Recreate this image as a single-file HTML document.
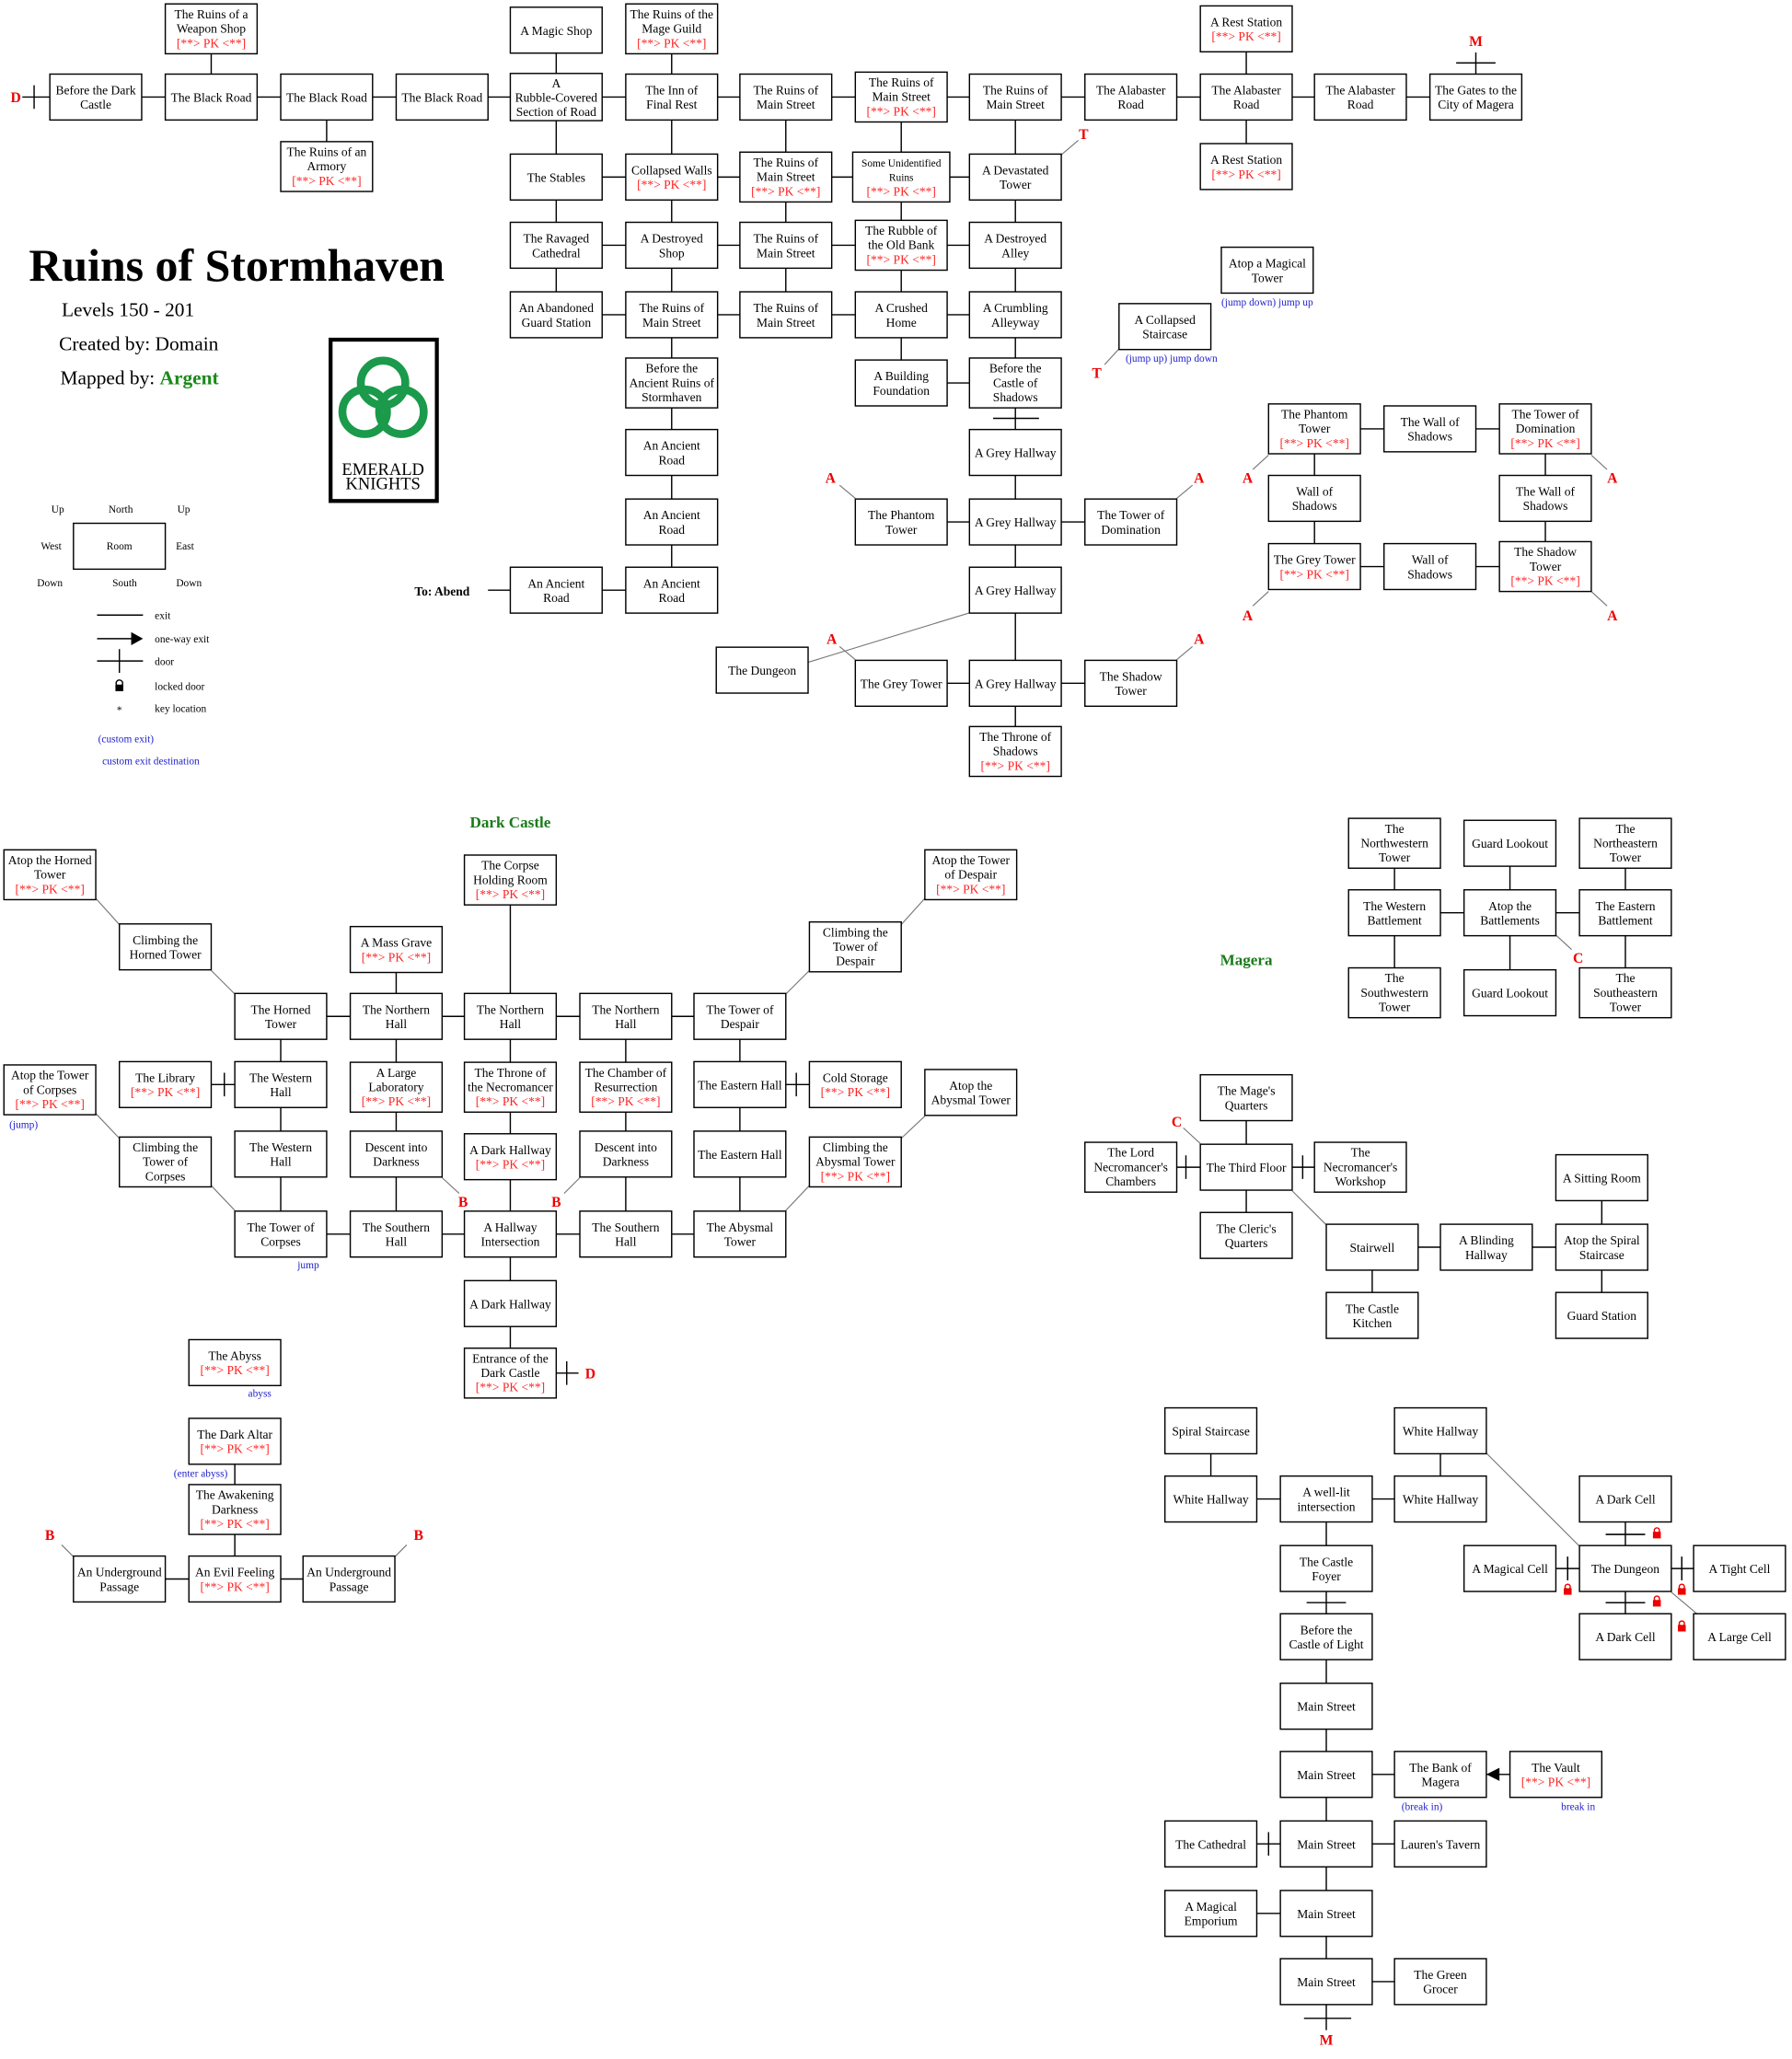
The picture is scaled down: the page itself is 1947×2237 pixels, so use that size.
<!DOCTYPE html>
<html><head><meta charset="utf-8"><style>
html,body{margin:0;padding:0;background:#fff;}
svg{display:block;}
text{font-family:"Liberation Serif",serif;font-size:9.5px;text-anchor:middle;fill:#000;}
.pk{fill:#f22;}
.bl{fill:#22c;font-size:8px;}
.red{fill:#e00;font-weight:bold;font-size:11px;}
.g rect{fill:#fff;stroke:#000;stroke-width:1;}
</style></head><body>
<svg width="1947" height="2237" viewBox="0 0 1366 1570" preserveAspectRatio="none" xmlns="http://www.w3.org/2000/svg">
<rect width="1366" height="1570" fill="#fff"/>
<path fill="none" stroke="#000" stroke-width="1" d="
M17 74 H1125 M26 65 V83
M161 22 V74 M249 74 V127 M424 23 V240 M512 22 V450 M599 74 V240 M687 74 V292 M774 74 V573 M950 22 V127
M1125 40 V74 M1110 48 H1140
M424 135 H774 M424 187 H774 M424 240 H774 M687 292 H774 M757 319 H792
M687 398 H862 M687 521 H862 M372 450 H512
M1002 327 H1178 M1002 432 H1178 M1002 327 V432 M1178 327 V432
M214 775 H564 M302 724 V775 M389 671 V775
M214 775 V941 M302 775 V941 M389 775 V1047 M477 775 V941 M564 775 V941
M126 827 H214 M171 818 V836 M564 827 H652 M607 818 V836
M214 941 H564
M424 1047 H441 M432 1038 V1056
M179 1099 V1204 M91 1204 H266
M1063 643 V757 M1151 643 V757 M1239 643 V757 M1063 696 H1239
M950 837 V942 M862 890 H1037 M904 881 V899 M993 881 V899
M1046 951 H1221 M1221 898 V1003 M1046 951 V1003
M923 1091 V1143 M923 1143 H1098 M1098 1091 V1143 M1011 1143 V1511 M996 1222 H1026
M1011 1353 H1098 M923 1406 H1098 M967 1397 V1415 M923 1459 H1011 M1011 1511 H1098
M1011 1528 V1548 M994 1539 H1030
M1239 1143 V1248 M1151 1196 H1326 M1224 1170 H1254 M1224 1222 H1254 M1195 1187 V1205 M1282 1187 V1205
M1133 1353 H1151
"/>
<path fill="none" stroke="#777" stroke-width="0.8" d="
M809 118 L822 107 M853 266 L842 278 M923 232 L880 249
M652 380 L640 370 M897 380 L909 370 M652 503 L640 493 M897 503 L909 493
M740 467 L616 505
M967 347 L955 358 M1213 347 L1225 358 M967 451 L955 462 M1213 451 L1225 462
M73 685 L91 705 M161 740 L179 758 M705 685 L687 705 M617 740 L599 758
M73 849 L91 868 M161 904 L179 923 M705 851 L687 868 M617 904 L599 923
M337 898 L350 910 M442 898 L430 910
M56 1187 L47 1178 M301 1187 L310 1178
M1186 713 L1198 724 M915 872 L902 860 M985 908 L1011 934
M1133 1108 L1204 1179 M1274 1214 L1300 1236
"/>
<polygon points="1133,1353 1143,1348 1143,1358" fill="#000"/>
<text class="red" x="12" y="78">D</text>
<text class="red" x="1125" y="35">M</text>
<text class="red" x="826" y="106">T</text>
<text class="red" x="836" y="288">T</text>
<text class="red" x="633" y="368">A</text><text class="red" x="914" y="368">A</text>
<text class="red" x="634" y="491">A</text><text class="red" x="914" y="491">A</text>
<text class="red" x="951" y="368">A</text><text class="red" x="1229" y="368">A</text>
<text class="red" x="951" y="473">A</text><text class="red" x="1229" y="473">A</text>
<text class="red" x="353" y="920">B</text><text class="red" x="424" y="920">B</text>
<text class="red" x="38" y="1174">B</text><text class="red" x="319" y="1174">B</text>
<text class="red" x="450" y="1051">D</text>
<text class="red" x="1203" y="734">C</text><text class="red" x="897" y="859">C</text>
<text class="red" x="1011" y="1559">M</text>
<text x="22" y="214" style="font-size:35px;font-weight:bold;text-anchor:start">Ruins of Stormhaven</text>
<text x="47" y="241" style="font-size:15px;text-anchor:start">Levels 150 - 201</text>
<text x="45" y="267" style="font-size:15px;text-anchor:start">Created by: Domain</text>
<text x="46" y="293" style="font-size:15px;text-anchor:start">Mapped by: <tspan style="fill:#1a8a1a;font-weight:bold">Argent</tspan></text>
<text x="389" y="631" style="font-size:12px;font-weight:bold;fill:#1a7a1a">Dark Castle</text>
<text x="950" y="736" style="font-size:12px;font-weight:bold;fill:#1a7a1a">Magera</text>
<text x="337" y="454" style="font-weight:bold">To: Abend</text>
<rect x="252" y="259" width="81" height="123" fill="#fff" stroke="#000" stroke-width="3"/>
<g fill="none" stroke="#1a9a4a" stroke-width="6">
<circle cx="292" cy="292" r="17"/><circle cx="278" cy="314" r="17"/><circle cx="306" cy="314" r="17"/>
</g>
<text x="292" y="362" style="font-size:13px">EMERALD</text>
<text x="292" y="373" style="font-size:13px">KNIGHTS</text>
<rect x="56" y="399" width="70" height="35" fill="#fff" stroke="#000"/>
<text x="91" y="419" style="font-size:8px">Room</text>
<text x="44" y="391" style="font-size:8px">Up</text><text x="92" y="391" style="font-size:8px">North</text><text x="140" y="391" style="font-size:8px">Up</text>
<text x="39" y="419" style="font-size:8px">West</text><text x="141" y="419" style="font-size:8px">East</text>
<text x="38" y="447" style="font-size:8px">Down</text><text x="95" y="447" style="font-size:8px">South</text><text x="144" y="447" style="font-size:8px">Down</text>
<path d="M74 469 H109 M74 487 H103 M74 504 H109 M91 495 V513" stroke="#000" fill="none"/>
<polygon points="109,487 100,482 100,492" fill="#000"/>
<circle cx="91" cy="521" r="2.5" fill="none" stroke="#000"/><rect x="88" y="522" width="6" height="5" fill="#000"/>
<text x="91" y="544" style="font-size:8px">*</text>
<text x="118" y="472" style="font-size:8px;text-anchor:start">exit</text>
<text x="118" y="490" style="font-size:8px;text-anchor:start">one-way exit</text>
<text x="118" y="507" style="font-size:8px;text-anchor:start">door</text>
<text x="118" y="526" style="font-size:8px;text-anchor:start">locked door</text>
<text x="118" y="543" style="font-size:8px;text-anchor:start">key location</text>
<text class="bl" x="96" y="566">(custom exit)</text>
<text class="bl" x="115" y="583">custom exit destination</text>
<text class="bl" x="966" y="233">(jump down)  jump up</text>
<text class="bl" x="893" y="276">(jump up)   jump down</text>
<text class="bl" x="18" y="860">(jump)</text>
<text class="bl" x="235" y="967">jump</text>
<text class="bl" x="198" y="1065">abyss</text>
<text class="bl" x="153" y="1126">(enter abyss)</text>
<text class="bl" x="1084" y="1380">(break in)</text>
<text class="bl" x="1203" y="1380">break in</text>
<g fill="none" stroke="#e00" stroke-width="1">
<circle cx="1263" cy="1167" r="2"/><circle cx="1195" cy="1210" r="2"/><circle cx="1282" cy="1210" r="2"/><circle cx="1263" cy="1219" r="2"/><circle cx="1282" cy="1238" r="2"/>
</g>
<g fill="#e00">
<rect x="1260" y="1168" width="6" height="5"/><rect x="1192" y="1211" width="6" height="5"/><rect x="1279" y="1211" width="6" height="5"/><rect x="1260" y="1220" width="6" height="5"/><rect x="1279" y="1239" width="6" height="5"/>
</g>
<text x="1267" y="1213" style="fill:#e00;font-size:8px">*</text>

<g class="g">
<g transform="translate(73,74)"><rect x="-35" y="-17.5" width="70" height="35"/><text y="-2">Before the Dark</text><text y="9">Castle</text></g>
<g transform="translate(161,74)"><rect x="-35" y="-17.5" width="70" height="35"/><text y="3.5">The Black Road</text></g>
<g transform="translate(161,22)"><rect x="-35" y="-19" width="70" height="38"/><text y="-8">The Ruins of a</text><text y="3">Weapon Shop</text><text class="pk" y="14">[**&gt; PK &lt;**]</text></g>
<g transform="translate(249,74)"><rect x="-35" y="-17.5" width="70" height="35"/><text y="3.5">The Black Road</text></g>
<g transform="translate(249,127)"><rect x="-35" y="-19" width="70" height="38"/><text y="-8">The Ruins of an</text><text y="3">Armory</text><text class="pk" y="14">[**&gt; PK &lt;**]</text></g>
<g transform="translate(337,74)"><rect x="-35" y="-17.5" width="70" height="35"/><text y="3.5">The Black Road</text></g>
<g transform="translate(424,23)"><rect x="-35" y="-17.5" width="70" height="35"/><text y="3.5">A Magic Shop</text></g>
<g transform="translate(424,74)"><rect x="-35" y="-18" width="70" height="36"/><text y="-7.5">A</text><text y="3.5">Rubble-Covered</text><text y="14.5">Section of Road</text></g>
<g transform="translate(512,22)"><rect x="-35" y="-19" width="70" height="38"/><text y="-8">The Ruins of the</text><text y="3">Mage Guild</text><text class="pk" y="14">[**&gt; PK &lt;**]</text></g>
<g transform="translate(512,74)"><rect x="-35" y="-17.5" width="70" height="35"/><text y="-2">The Inn of</text><text y="9">Final Rest</text></g>
<g transform="translate(599,74)"><rect x="-35" y="-17.5" width="70" height="35"/><text y="-2">The Ruins of</text><text y="9">Main Street</text></g>
<g transform="translate(687,74)"><rect x="-35" y="-19" width="70" height="38"/><text y="-8">The Ruins of</text><text y="3">Main Street</text><text class="pk" y="14">[**&gt; PK &lt;**]</text></g>
<g transform="translate(774,74)"><rect x="-35" y="-17.5" width="70" height="35"/><text y="-2">The Ruins of</text><text y="9">Main Street</text></g>
<g transform="translate(862,74)"><rect x="-35" y="-17.5" width="70" height="35"/><text y="-2">The Alabaster</text><text y="9">Road</text></g>
<g transform="translate(950,74)"><rect x="-35" y="-17.5" width="70" height="35"/><text y="-2">The Alabaster</text><text y="9">Road</text></g>
<g transform="translate(950,22)"><rect x="-35" y="-17.5" width="70" height="35"/><text y="-2">A Rest Station</text><text class="pk" y="9">[**&gt; PK &lt;**]</text></g>
<g transform="translate(950,127)"><rect x="-35" y="-17.5" width="70" height="35"/><text y="-2">A Rest Station</text><text class="pk" y="9">[**&gt; PK &lt;**]</text></g>
<g transform="translate(1037,74)"><rect x="-35" y="-17.5" width="70" height="35"/><text y="-2">The Alabaster</text><text y="9">Road</text></g>
<g transform="translate(1125,74)"><rect x="-35" y="-17.5" width="70" height="35"/><text y="-2">The Gates to the</text><text y="9">City of Magera</text></g>

<g transform="translate(424,135)"><rect x="-35" y="-17.5" width="70" height="35"/><text y="3.5">The Stables</text></g>
<g transform="translate(512,135)"><rect x="-35" y="-17.5" width="70" height="35"/><text y="-2">Collapsed Walls</text><text class="pk" y="9">[**&gt; PK &lt;**]</text></g>
<g transform="translate(599,135)"><rect x="-35" y="-19" width="70" height="38"/><text y="-8">The Ruins of</text><text y="3">Main Street</text><text class="pk" y="14">[**&gt; PK &lt;**]</text></g>
<g transform="translate(687,135)"><rect x="-37" y="-19" width="74" height="38"/><text y="-8" style="font-size:8px">Some Unidentified</text><text y="3" style="font-size:8px">Ruins</text><text class="pk" y="14">[**&gt; PK &lt;**]</text></g>
<g transform="translate(774,135)"><rect x="-35" y="-17.5" width="70" height="35"/><text y="-2">A Devastated</text><text y="9">Tower</text></g>
<g transform="translate(424,187)"><rect x="-35" y="-17.5" width="70" height="35"/><text y="-2">The Ravaged</text><text y="9">Cathedral</text></g>
<g transform="translate(512,187)"><rect x="-35" y="-17.5" width="70" height="35"/><text y="-2">A Destroyed</text><text y="9">Shop</text></g>
<g transform="translate(599,187)"><rect x="-35" y="-17.5" width="70" height="35"/><text y="-2">The Ruins of</text><text y="9">Main Street</text></g>
<g transform="translate(687,187)"><rect x="-35" y="-19" width="70" height="38"/><text y="-8">The Rubble of</text><text y="3">the Old Bank</text><text class="pk" y="14">[**&gt; PK &lt;**]</text></g>
<g transform="translate(774,187)"><rect x="-35" y="-17.5" width="70" height="35"/><text y="-2">A Destroyed</text><text y="9">Alley</text></g>
<g transform="translate(424,240)"><rect x="-35" y="-17.5" width="70" height="35"/><text y="-2">An Abandoned</text><text y="9">Guard Station</text></g>
<g transform="translate(512,240)"><rect x="-35" y="-17.5" width="70" height="35"/><text y="-2">The Ruins of</text><text y="9">Main Street</text></g>
<g transform="translate(599,240)"><rect x="-35" y="-17.5" width="70" height="35"/><text y="-2">The Ruins of</text><text y="9">Main Street</text></g>
<g transform="translate(687,240)"><rect x="-35" y="-17.5" width="70" height="35"/><text y="-2">A Crushed</text><text y="9">Home</text></g>
<g transform="translate(774,240)"><rect x="-35" y="-17.5" width="70" height="35"/><text y="-2">A Crumbling</text><text y="9">Alleyway</text></g>
<g transform="translate(512,292)"><rect x="-35" y="-19" width="70" height="38"/><text y="-8">Before the</text><text y="3">Ancient Ruins of</text><text y="14">Stormhaven</text></g>
<g transform="translate(687,292)"><rect x="-35" y="-17.5" width="70" height="35"/><text y="-2">A Building</text><text y="9">Foundation</text></g>
<g transform="translate(774,292)"><rect x="-35" y="-19" width="70" height="38"/><text y="-8">Before the</text><text y="3">Castle of</text><text y="14">Shadows</text></g>
<g transform="translate(512,345)"><rect x="-35" y="-17.5" width="70" height="35"/><text y="-2">An Ancient</text><text y="9">Road</text></g>
<g transform="translate(774,345)"><rect x="-35" y="-17.5" width="70" height="35"/><text y="3.5">A Grey Hallway</text></g>
<g transform="translate(512,398)"><rect x="-35" y="-17.5" width="70" height="35"/><text y="-2">An Ancient</text><text y="9">Road</text></g>
<g transform="translate(687,398)"><rect x="-35" y="-17.5" width="70" height="35"/><text y="-2">The Phantom</text><text y="9">Tower</text></g>
<g transform="translate(774,398)"><rect x="-35" y="-17.5" width="70" height="35"/><text y="3.5">A Grey Hallway</text></g>
<g transform="translate(862,398)"><rect x="-35" y="-17.5" width="70" height="35"/><text y="-2">The Tower of</text><text y="9">Domination</text></g>
<g transform="translate(424,450)"><rect x="-35" y="-17.5" width="70" height="35"/><text y="-2">An Ancient</text><text y="9">Road</text></g>
<g transform="translate(512,450)"><rect x="-35" y="-17.5" width="70" height="35"/><text y="-2">An Ancient</text><text y="9">Road</text></g>
<g transform="translate(774,450)"><rect x="-35" y="-17.5" width="70" height="35"/><text y="3.5">A Grey Hallway</text></g>
<g transform="translate(581,511)"><rect x="-35" y="-17.5" width="70" height="35"/><text y="3.5">The Dungeon</text></g>
<g transform="translate(687,521)"><rect x="-35" y="-17.5" width="70" height="35"/><text y="3.5">The Grey Tower</text></g>
<g transform="translate(774,521)"><rect x="-35" y="-17.5" width="70" height="35"/><text y="3.5">A Grey Hallway</text></g>
<g transform="translate(862,521)"><rect x="-35" y="-17.5" width="70" height="35"/><text y="-2">The Shadow</text><text y="9">Tower</text></g>
<g transform="translate(774,573)"><rect x="-35" y="-19" width="70" height="38"/><text y="-8">The Throne of</text><text y="3">Shadows</text><text class="pk" y="14">[**&gt; PK &lt;**]</text></g>
<g transform="translate(966,206)"><rect x="-35" y="-17.5" width="70" height="35"/><text y="-2">Atop a Magical</text><text y="9">Tower</text></g>
<g transform="translate(888,249)"><rect x="-35" y="-17.5" width="70" height="35"/><text y="-2">A Collapsed</text><text y="9">Staircase</text></g>

<g transform="translate(1002,327)"><rect x="-35" y="-19" width="70" height="38"/><text y="-8">The Phantom</text><text y="3">Tower</text><text class="pk" y="14">[**&gt; PK &lt;**]</text></g>
<g transform="translate(1090,327)"><rect x="-35" y="-17.5" width="70" height="35"/><text y="-2">The Wall of</text><text y="9">Shadows</text></g>
<g transform="translate(1178,327)"><rect x="-35" y="-19" width="70" height="38"/><text y="-8">The Tower of</text><text y="3">Domination</text><text class="pk" y="14">[**&gt; PK &lt;**]</text></g>
<g transform="translate(1002,380)"><rect x="-35" y="-17.5" width="70" height="35"/><text y="-2">Wall of</text><text y="9">Shadows</text></g>
<g transform="translate(1178,380)"><rect x="-35" y="-17.5" width="70" height="35"/><text y="-2">The Wall of</text><text y="9">Shadows</text></g>
<g transform="translate(1002,432)"><rect x="-35" y="-17.5" width="70" height="35"/><text y="-2">The Grey Tower</text><text class="pk" y="9">[**&gt; PK &lt;**]</text></g>
<g transform="translate(1090,432)"><rect x="-35" y="-17.5" width="70" height="35"/><text y="-2">Wall of</text><text y="9">Shadows</text></g>
<g transform="translate(1178,432)"><rect x="-35" y="-19" width="70" height="38"/><text y="-8">The Shadow</text><text y="3">Tower</text><text class="pk" y="14">[**&gt; PK &lt;**]</text></g>

<g transform="translate(38,667)"><rect x="-35" y="-19" width="70" height="38"/><text y="-8">Atop the Horned</text><text y="3">Tower</text><text class="pk" y="14">[**&gt; PK &lt;**]</text></g>
<g transform="translate(126,722)"><rect x="-35" y="-17.5" width="70" height="35"/><text y="-2">Climbing the</text><text y="9">Horned Tower</text></g>
<g transform="translate(214,775)"><rect x="-35" y="-17.5" width="70" height="35"/><text y="-2">The Horned</text><text y="9">Tower</text></g>
<g transform="translate(302,775)"><rect x="-35" y="-17.5" width="70" height="35"/><text y="-2">The Northern</text><text y="9">Hall</text></g>
<g transform="translate(389,775)"><rect x="-35" y="-17.5" width="70" height="35"/><text y="-2">The Northern</text><text y="9">Hall</text></g>
<g transform="translate(477,775)"><rect x="-35" y="-17.5" width="70" height="35"/><text y="-2">The Northern</text><text y="9">Hall</text></g>
<g transform="translate(564,775)"><rect x="-35" y="-17.5" width="70" height="35"/><text y="-2">The Tower of</text><text y="9">Despair</text></g>
<g transform="translate(652,722)"><rect x="-35" y="-19" width="70" height="38"/><text y="-8">Climbing the</text><text y="3">Tower of</text><text y="14">Despair</text></g>
<g transform="translate(740,667)"><rect x="-35" y="-19" width="70" height="38"/><text y="-8">Atop the Tower</text><text y="3">of Despair</text><text class="pk" y="14">[**&gt; PK &lt;**]</text></g>
<g transform="translate(302,724)"><rect x="-35" y="-17.5" width="70" height="35"/><text y="-2">A Mass Grave</text><text class="pk" y="9">[**&gt; PK &lt;**]</text></g>
<g transform="translate(389,671)"><rect x="-35" y="-19" width="70" height="38"/><text y="-8">The Corpse</text><text y="3">Holding Room</text><text class="pk" y="14">[**&gt; PK &lt;**]</text></g>
<g transform="translate(38,831)"><rect x="-35" y="-19" width="70" height="38"/><text y="-8">Atop the Tower</text><text y="3">of Corpses</text><text class="pk" y="14">[**&gt; PK &lt;**]</text></g>
<g transform="translate(126,827)"><rect x="-35" y="-17.5" width="70" height="35"/><text y="-2">The Library</text><text class="pk" y="9">[**&gt; PK &lt;**]</text></g>
<g transform="translate(214,827)"><rect x="-35" y="-17.5" width="70" height="35"/><text y="-2">The Western</text><text y="9">Hall</text></g>
<g transform="translate(302,829)"><rect x="-35" y="-19" width="70" height="38"/><text y="-8">A Large</text><text y="3">Laboratory</text><text class="pk" y="14">[**&gt; PK &lt;**]</text></g>
<g transform="translate(389,829)"><rect x="-35" y="-19" width="70" height="38"/><text y="-8">The Throne of</text><text y="3">the Necromancer</text><text class="pk" y="14">[**&gt; PK &lt;**]</text></g>
<g transform="translate(477,829)"><rect x="-35" y="-19" width="70" height="38"/><text y="-8">The Chamber of</text><text y="3">Resurrection</text><text class="pk" y="14">[**&gt; PK &lt;**]</text></g>
<g transform="translate(564,827)"><rect x="-35" y="-17.5" width="70" height="35"/><text y="3.5">The Eastern Hall</text></g>
<g transform="translate(652,827)"><rect x="-35" y="-17.5" width="70" height="35"/><text y="-2">Cold Storage</text><text class="pk" y="9">[**&gt; PK &lt;**]</text></g>
<g transform="translate(740,833)"><rect x="-35" y="-17.5" width="70" height="35"/><text y="-2">Atop the</text><text y="9">Abysmal Tower</text></g>
<g transform="translate(126,886)"><rect x="-35" y="-19" width="70" height="38"/><text y="-8">Climbing the</text><text y="3">Tower of</text><text y="14">Corpses</text></g>
<g transform="translate(214,880)"><rect x="-35" y="-17.5" width="70" height="35"/><text y="-2">The Western</text><text y="9">Hall</text></g>
<g transform="translate(302,880)"><rect x="-35" y="-17.5" width="70" height="35"/><text y="-2">Descent into</text><text y="9">Darkness</text></g>
<g transform="translate(389,882)"><rect x="-35" y="-17.5" width="70" height="35"/><text y="-2">A Dark Hallway</text><text class="pk" y="9">[**&gt; PK &lt;**]</text></g>
<g transform="translate(477,880)"><rect x="-35" y="-17.5" width="70" height="35"/><text y="-2">Descent into</text><text y="9">Darkness</text></g>
<g transform="translate(564,880)"><rect x="-35" y="-17.5" width="70" height="35"/><text y="3.5">The Eastern Hall</text></g>
<g transform="translate(652,886)"><rect x="-35" y="-19" width="70" height="38"/><text y="-8">Climbing the</text><text y="3">Abysmal Tower</text><text class="pk" y="14">[**&gt; PK &lt;**]</text></g>
<g transform="translate(214,941)"><rect x="-35" y="-17.5" width="70" height="35"/><text y="-2">The Tower of</text><text y="9">Corpses</text></g>
<g transform="translate(302,941)"><rect x="-35" y="-17.5" width="70" height="35"/><text y="-2">The Southern</text><text y="9">Hall</text></g>
<g transform="translate(389,941)"><rect x="-35" y="-17.5" width="70" height="35"/><text y="-2">A Hallway</text><text y="9">Intersection</text></g>
<g transform="translate(477,941)"><rect x="-35" y="-17.5" width="70" height="35"/><text y="-2">The Southern</text><text y="9">Hall</text></g>
<g transform="translate(564,941)"><rect x="-35" y="-17.5" width="70" height="35"/><text y="-2">The Abysmal</text><text y="9">Tower</text></g>
<g transform="translate(389,994)"><rect x="-35" y="-17.5" width="70" height="35"/><text y="3.5">A Dark Hallway</text></g>
<g transform="translate(389,1047)"><rect x="-35" y="-19" width="70" height="38"/><text y="-8">Entrance of the</text><text y="3">Dark Castle</text><text class="pk" y="14">[**&gt; PK &lt;**]</text></g>
<g transform="translate(179,1039)"><rect x="-35" y="-17.5" width="70" height="35"/><text y="-2">The Abyss</text><text class="pk" y="9">[**&gt; PK &lt;**]</text></g>
<g transform="translate(179,1099)"><rect x="-35" y="-17.5" width="70" height="35"/><text y="-2">The Dark Altar</text><text class="pk" y="9">[**&gt; PK &lt;**]</text></g>
<g transform="translate(179,1151)"><rect x="-35" y="-19" width="70" height="38"/><text y="-8">The Awakening</text><text y="3">Darkness</text><text class="pk" y="14">[**&gt; PK &lt;**]</text></g>
<g transform="translate(91,1204)"><rect x="-35" y="-17.5" width="70" height="35"/><text y="-2">An Underground</text><text y="9">Passage</text></g>
<g transform="translate(179,1204)"><rect x="-35" y="-17.5" width="70" height="35"/><text y="-2">An Evil Feeling</text><text class="pk" y="9">[**&gt; PK &lt;**]</text></g>
<g transform="translate(266,1204)"><rect x="-35" y="-17.5" width="70" height="35"/><text y="-2">An Underground</text><text y="9">Passage</text></g>

<g transform="translate(1063,643)"><rect x="-35" y="-19" width="70" height="38"/><text y="-8">The</text><text y="3">Northwestern</text><text y="14">Tower</text></g>
<g transform="translate(1151,643)"><rect x="-35" y="-17.5" width="70" height="35"/><text y="3.5">Guard Lookout</text></g>
<g transform="translate(1239,643)"><rect x="-35" y="-19" width="70" height="38"/><text y="-8">The</text><text y="3">Northeastern</text><text y="14">Tower</text></g>
<g transform="translate(1063,696)"><rect x="-35" y="-17.5" width="70" height="35"/><text y="-2">The Western</text><text y="9">Battlement</text></g>
<g transform="translate(1151,696)"><rect x="-35" y="-17.5" width="70" height="35"/><text y="-2">Atop the</text><text y="9">Battlements</text></g>
<g transform="translate(1239,696)"><rect x="-35" y="-17.5" width="70" height="35"/><text y="-2">The Eastern</text><text y="9">Battlement</text></g>
<g transform="translate(1063,757)"><rect x="-35" y="-19" width="70" height="38"/><text y="-8">The</text><text y="3">Southwestern</text><text y="14">Tower</text></g>
<g transform="translate(1151,757)"><rect x="-35" y="-17.5" width="70" height="35"/><text y="3.5">Guard Lookout</text></g>
<g transform="translate(1239,757)"><rect x="-35" y="-19" width="70" height="38"/><text y="-8">The</text><text y="3">Southeastern</text><text y="14">Tower</text></g>
<g transform="translate(950,837)"><rect x="-35" y="-17.5" width="70" height="35"/><text y="-2">The Mage's</text><text y="9">Quarters</text></g>
<g transform="translate(862,890)"><rect x="-35" y="-19" width="70" height="38"/><text y="-8">The Lord</text><text y="3">Necromancer's</text><text y="14">Chambers</text></g>
<g transform="translate(950,890)"><rect x="-35" y="-17.5" width="70" height="35"/><text y="3.5">The Third Floor</text></g>
<g transform="translate(1037,890)"><rect x="-35" y="-19" width="70" height="38"/><text y="-8">The</text><text y="3">Necromancer's</text><text y="14">Workshop</text></g>
<g transform="translate(950,942)"><rect x="-35" y="-17.5" width="70" height="35"/><text y="-2">The Cleric's</text><text y="9">Quarters</text></g>
<g transform="translate(1046,951)"><rect x="-35" y="-17.5" width="70" height="35"/><text y="3.5">Stairwell</text></g>
<g transform="translate(1133,951)"><rect x="-35" y="-17.5" width="70" height="35"/><text y="-2">A Blinding</text><text y="9">Hallway</text></g>
<g transform="translate(1221,951)"><rect x="-35" y="-17.5" width="70" height="35"/><text y="-2">Atop the Spiral</text><text y="9">Staircase</text></g>
<g transform="translate(1221,898)"><rect x="-35" y="-17.5" width="70" height="35"/><text y="3.5">A Sitting Room</text></g>
<g transform="translate(1221,1003)"><rect x="-35" y="-17.5" width="70" height="35"/><text y="3.5">Guard Station</text></g>
<g transform="translate(1046,1003)"><rect x="-35" y="-17.5" width="70" height="35"/><text y="-2">The Castle</text><text y="9">Kitchen</text></g>
<g transform="translate(923,1091)"><rect x="-35" y="-17.5" width="70" height="35"/><text y="3.5">Spiral Staircase</text></g>
<g transform="translate(923,1143)"><rect x="-35" y="-17.5" width="70" height="35"/><text y="3.5">White Hallway</text></g>
<g transform="translate(1011,1143)"><rect x="-35" y="-17.5" width="70" height="35"/><text y="-2">A well-lit</text><text y="9">intersection</text></g>
<g transform="translate(1098,1143)"><rect x="-35" y="-17.5" width="70" height="35"/><text y="3.5">White Hallway</text></g>
<g transform="translate(1098,1091)"><rect x="-35" y="-17.5" width="70" height="35"/><text y="3.5">White Hallway</text></g>
<g transform="translate(1011,1196)"><rect x="-35" y="-17.5" width="70" height="35"/><text y="-2">The Castle</text><text y="9">Foyer</text></g>
<g transform="translate(1011,1248)"><rect x="-35" y="-17.5" width="70" height="35"/><text y="-2">Before the</text><text y="9">Castle of Light</text></g>
<g transform="translate(1011,1301)"><rect x="-35" y="-17.5" width="70" height="35"/><text y="3.5">Main Street</text></g>
<g transform="translate(1011,1353)"><rect x="-35" y="-17.5" width="70" height="35"/><text y="3.5">Main Street</text></g>
<g transform="translate(1098,1353)"><rect x="-35" y="-17.5" width="70" height="35"/><text y="-2">The Bank of</text><text y="9">Magera</text></g>
<g transform="translate(1186,1353)"><rect x="-35" y="-17.5" width="70" height="35"/><text y="-2">The Vault</text><text class="pk" y="9">[**&gt; PK &lt;**]</text></g>
<g transform="translate(923,1406)"><rect x="-35" y="-17.5" width="70" height="35"/><text y="3.5">The Cathedral</text></g>
<g transform="translate(1011,1406)"><rect x="-35" y="-17.5" width="70" height="35"/><text y="3.5">Main Street</text></g>
<g transform="translate(1098,1406)"><rect x="-35" y="-17.5" width="70" height="35"/><text y="3.5">Lauren's Tavern</text></g>
<g transform="translate(923,1459)"><rect x="-35" y="-17.5" width="70" height="35"/><text y="-2">A Magical</text><text y="9">Emporium</text></g>
<g transform="translate(1011,1459)"><rect x="-35" y="-17.5" width="70" height="35"/><text y="3.5">Main Street</text></g>
<g transform="translate(1011,1511)"><rect x="-35" y="-17.5" width="70" height="35"/><text y="3.5">Main Street</text></g>
<g transform="translate(1098,1511)"><rect x="-35" y="-17.5" width="70" height="35"/><text y="-2">The Green</text><text y="9">Grocer</text></g>
<g transform="translate(1239,1143)"><rect x="-35" y="-17.5" width="70" height="35"/><text y="3.5">A Dark Cell</text></g>
<g transform="translate(1151,1196)"><rect x="-35" y="-17.5" width="70" height="35"/><text y="3.5">A Magical Cell</text></g>
<g transform="translate(1239,1196)"><rect x="-35" y="-17.5" width="70" height="35"/><text y="3.5">The Dungeon</text></g>
<g transform="translate(1326,1196)"><rect x="-35" y="-17.5" width="70" height="35"/><text y="3.5">A Tight Cell</text></g>
<g transform="translate(1239,1248)"><rect x="-35" y="-17.5" width="70" height="35"/><text y="3.5">A Dark Cell</text></g>
<g transform="translate(1326,1248)"><rect x="-35" y="-17.5" width="70" height="35"/><text y="3.5">A Large Cell</text></g>
</g>
<path d="M1224 1170 H1254 M1224 1222 H1254 M1195 1187 V1205 M1282 1187 V1205" stroke="#000"/>
</svg>
</body></html>
